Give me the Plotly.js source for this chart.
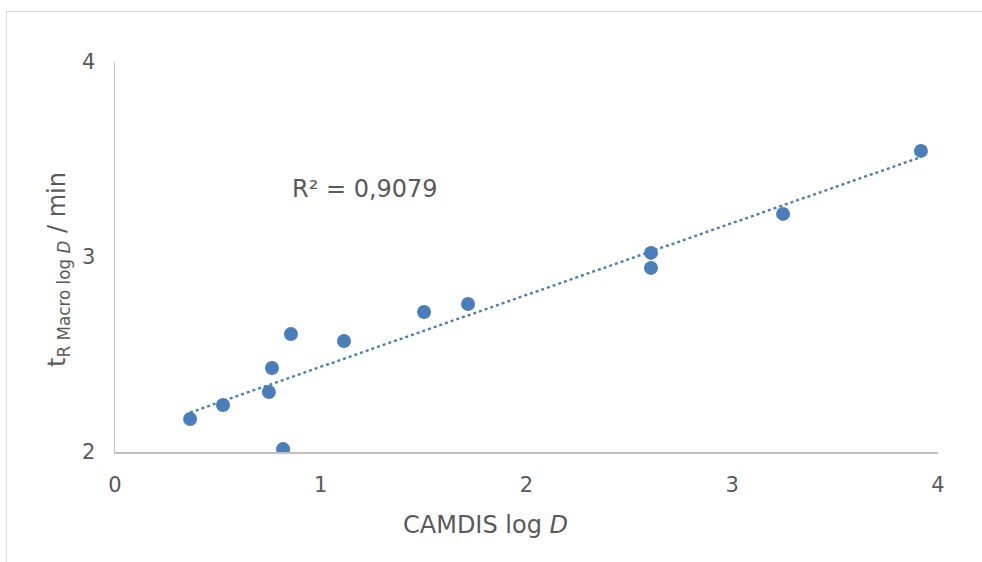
<!DOCTYPE html>
<html>
<head>
<meta charset="utf-8">
<script src="https://cdn.plot.ly/plotly-3.0.1.min.js"></script>
<style>
  html, body { margin: 0; padding: 0; background: #fff; }
  #frame { position: absolute; left: 6px; top: 11px; width: 1000px; height: 600px;
           border-left: 1.5px solid #d9d9d9; border-top: 1.5px solid #d9d9d9; }
  #chart { position: absolute; left: 0; top: 0; width: 982px; height: 562px; }
</style>
</head>
<body>
<div id="frame"></div>
<div id="chart"></div>
<script>
// CAMDIS log D values (x) and retention times tR Macro log D / min (y)
const camdisLogD = [0.365, 0.525, 0.748, 0.763, 0.817, 0.855, 1.113, 1.502, 1.716, 2.605, 2.605, 3.247, 3.917];
const tRMacro    = [2.169, 2.241, 2.308, 2.431, 2.015, 2.605, 2.569, 2.718, 2.759, 3.021, 2.944, 3.221, 3.544];
const xTicks = [0, 1, 2, 3, 4];
const yTicks = [2, 3, 4];
const r2Label = 'R² = 0,9079';

// least squares trendline from the data
const n = camdisLogD.length;
const mx = camdisLogD.reduce((a, b) => a + b, 0) / n;
const my = tRMacro.reduce((a, b) => a + b, 0) / n;
let sxy = 0, sxx = 0;
for (let i = 0; i < n; i++) { sxy += (camdisLogD[i] - mx) * (tRMacro[i] - my); sxx += (camdisLogD[i] - mx) ** 2; }
const slope = sxy / sxx, icpt = my - slope * mx;
const xMin = Math.min(...camdisLogD), xMax = Math.max(...camdisLogD);
const trendX = [xMin, xMax];
const trendY = trendX.map(x => icpt + slope * x);

const blue = '#4a7ebb';
const grey = '#595959';
const font = 'DejaVu Sans, Verdana, sans-serif';

const data = [
  { x: trendX, y: trendY, mode: 'lines', type: 'scatter',
    line: { color: blue, width: 2.4, dash: 'dot' }, hoverinfo: 'skip' },
  { x: camdisLogD, y: tRMacro, mode: 'markers', type: 'scatter',
    marker: { color: blue, size: 14, line: { width: 0 } } }
];

const layout = {
  width: 982, height: 562,
  margin: { l: 115, r: 44, t: 62, b: 110 },
  paper_bgcolor: 'rgba(0,0,0,0)', plot_bgcolor: 'rgba(0,0,0,0)',
  showlegend: false,
  font: { family: font, size: 21, color: grey },
  xaxis: {
    range: [0, 4], tickvals: xTicks, ticktext: xTicks.map(String),
    showgrid: false, zeroline: false, showline: true, linecolor: '#bfbfbf', linewidth: 1.5,
    ticks: '', ticklabelstandoff: 13, tickfont: { family: font, size: 21, color: grey }
  },
  yaxis: {
    range: [2, 4], tickvals: yTicks, ticktext: yTicks.map(String),
    showgrid: false, zeroline: false, showline: true, linecolor: '#bfbfbf', linewidth: 1.5,
    ticks: '', ticklabelstandoff: 14, tickfont: { family: font, size: 21, color: grey }
  },
  annotations: [
    { xref: 'paper', yref: 'paper', x: (485 - 115) / 823, y: -(525 - 452) / 390,
      text: 'CAMDIS log <i>D</i>', showarrow: false, xanchor: 'center', yanchor: 'middle',
      font: { family: font, size: 24, color: grey } },
    { xref: 'paper', yref: 'paper', x: -(115 - 58) / 823, y: (452 - 269) / 390,
      text: 't<sub>R Macro log <i>D</i></sub> / min', textangle: -90, showarrow: false,
      xanchor: 'center', yanchor: 'middle', font: { family: font, size: 24, color: grey } },
    { xref: 'paper', yref: 'paper', x: (365 - 115) / 823, y: (452 - 189) / 390,
      text: r2Label, showarrow: false, xanchor: 'center', yanchor: 'middle',
      font: { family: font, size: 24, color: grey } }
  ]
};

Plotly.newPlot('chart', data, layout, { displayModeBar: false, staticPlot: true });
</script>
</body>
</html>
